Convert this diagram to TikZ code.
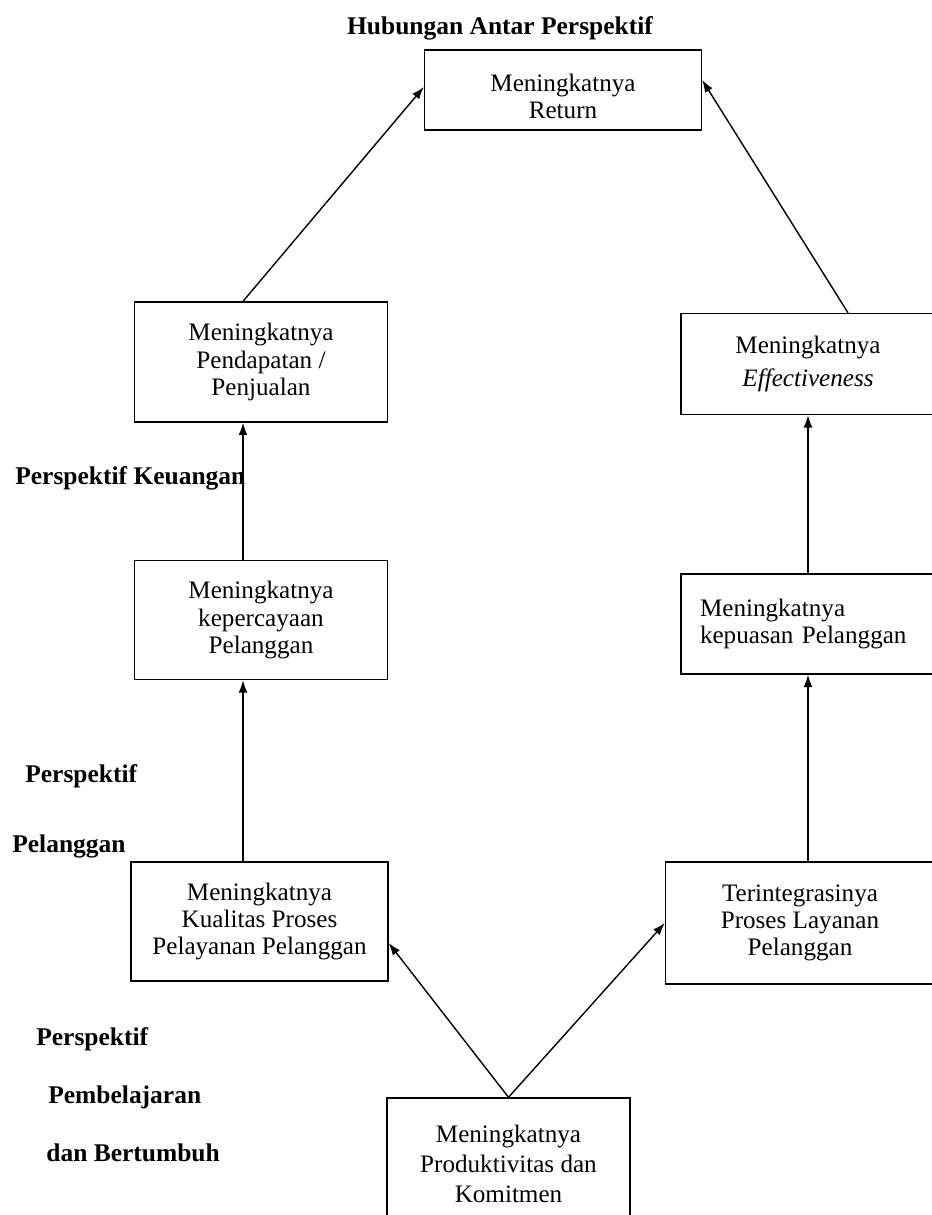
\documentclass[tikz,border=0pt]{standalone}
\usepackage{fontspec}
\setmainfont{Liberation Serif}
\usetikzlibrary{arrows.meta}

\begin{document}
\begin{tikzpicture}[x=0.02cm, y=-0.02cm,
    box/.style={draw, line width=0.8pt, align=center, inner sep=0pt,
        font=\fontsize{14.3}{15.5}\selectfont},
    lbl/.style={anchor=base west, inner sep=0pt, font=\fontsize{14.5}{16}\selectfont\bfseries},
    arr/.style={-{Latex[length=7pt,width=5pt]}, line width=0.8pt}]

	\useasboundingbox (0,0) rectangle (931,1215);

	% judul
	\node[font=\fontsize{14.5}{16}\selectfont\bfseries] (judul) at (500, 28) {Hubungan Antar Perspektif};

	% kotak
	\node[box, minimum width=5.54cm, minimum height=1.6cm] (ret) at (563, 90) {\rule{0pt}{0.62cm}Meningkatnya\\Return};
	\node[box, minimum width=5.06cm, minimum height=2.4cm] (pend) at (261, 362) {Meningkatnya\\Pendapatan /\\Penjualan};
	\node[box, minimum width=5.08cm, minimum height=2.02cm] (eff) at (808, 364) {Meningkatnya\\[0.2em]\textit{Effectiveness}};
	\node[box, minimum width=5.06cm, minimum height=2.38cm] (kep) at (261, 620) {Meningkatnya\\kepercayaan\\Pelanggan};
	\node[box, align=left, text width=4.32cm, inner xsep=0.38cm, minimum height=2.0cm] (puas) at (808, 624) {Meningkatnya\\kepuasan Pelanggan\\[0.8em]};
	\node[box, minimum width=5.14cm, minimum height=2.38cm] (kual) at (259.5, 921.5) {Meningkatnya\\Kualitas Proses\\Pelayanan Pelanggan};
	\node[box, minimum width=5.38cm, minimum height=2.44cm] (integ) at (800, 923) {Terintegrasinya\\Proses Layanan\\Pelanggan};
	\node[box, minimum width=4.86cm, minimum height=2.64cm] (prod) at (508.5, 1164) {Meningkatnya\\[0.1em]Produktivitas dan\\[0.1em]Komitmen};

	% panah
	\draw[arr] ([xshift=-0.36cm]pend.north) -- ([yshift=0.06cm]ret.west);
	\draw[arr] ([xshift=0.8cm]eff.north) -- ([yshift=0.2cm]ret.east);
	\draw[arr] ([xshift=-0.36cm]kep.north) -- ([xshift=-0.36cm]kep.north |- pend.south);
	\draw[arr] ([xshift=-0.36cm]kep.north |- kual.north) -- ([xshift=-0.36cm]kep.south);
	\draw[arr] (puas.north) -- (eff.south);
	\draw[arr] (puas.north |- integ.north) -- (puas.south);
	\draw[arr] (prod.north) -- ([yshift=-0.43cm]kual.east);
	\draw[arr] (prod.north) -- (integ.west);

	% perspektif
	\node[lbl] (keu) at (15, 484) {Perspektif Keuangan};
	\node[lbl] (pel1) at (25, 782) {Perspektif};
	\node[lbl] (pel2) at (12, 852) {Pelanggan};
	\node[lbl] (bel1) at (36, 1045) {Perspektif};
	\node[lbl] (bel2) at (48, 1103) {Pembelajaran};
	\node[lbl] (bel3) at (46, 1161) {dan Bertumbuh};

\end{tikzpicture}
\end{document}
